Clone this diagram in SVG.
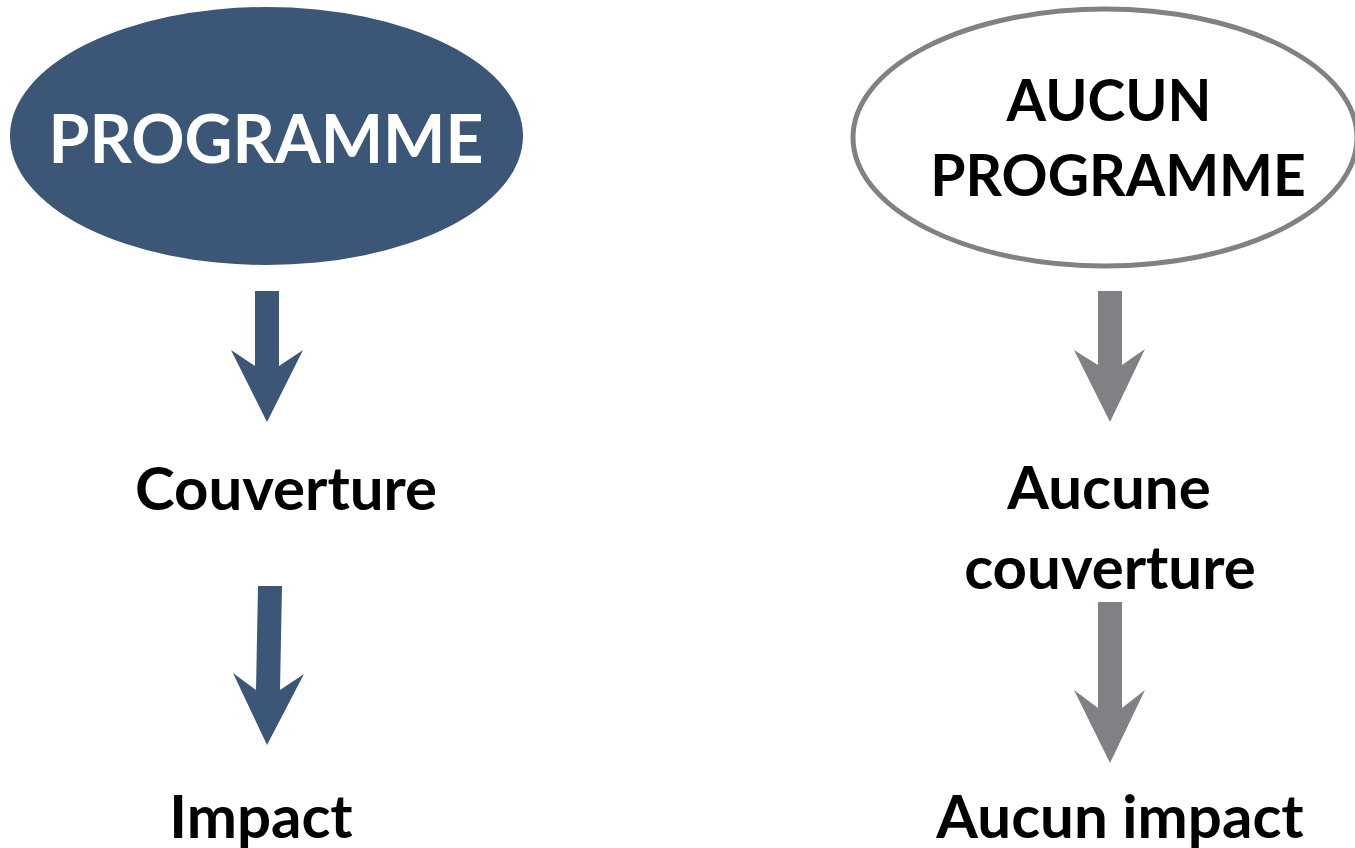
<svg xmlns="http://www.w3.org/2000/svg" width="1355" height="848" viewBox="0 0 1355 848">
<style>
.t{font-family:Lato,"Open Sans","Liberation Sans",sans-serif;font-weight:700;text-anchor:middle;fill:#000}
.blue{fill:#3b5676}
.gray{fill:#7f8185}
</style>
<rect width="1355" height="848" fill="#fff"/>
<g id="programme">
<ellipse cx="266.5" cy="136" rx="256.5" ry="129" class="blue"/>
<text x="266" y="163" class="t" style="fill:#fff;font-size:66px">PROGRAMME</text>
</g>
<g id="aucun-programme">
<ellipse cx="1105" cy="137.5" rx="252" ry="128.5" fill="#fff" stroke="#7f8185" stroke-width="5"/>
<text x="1109" y="121" class="t" style="font-size:57px">AUCUN</text>
<text x="1118" y="196" class="t" style="font-size:57px">PROGRAMME</text>
</g>
<g id="couverture"><text x="286" y="510" class="t" style="font-size:60px">Couverture</text></g>
<g id="impact"><text x="261" y="838" class="t" style="font-size:60px">Impact</text></g>
<g id="aucune-couverture">
<text x="1109" y="509" class="t" style="font-size:60px">Aucune</text>
<text x="1110" y="589" class="t" style="font-size:60px">couverture</text>
</g>
<g id="aucun-impact"><text x="1120" y="838" class="t" style="font-size:60px">Aucun impact</text></g>
<g id="connectors">
<polygon class="blue" points="255,291 279,291 279,366 303,350 267,422 231,350 255,366"/>
<polygon class="blue" points="258,586 282,586 280,690 304,674 267,745 233,673 256,690"/>
<polygon class="gray" points="1098,291 1122,291 1122,365 1145,349 1110,422 1074,350 1098,365"/>
<polygon class="gray" points="1098,602 1122,602 1122,708 1145,690 1110,763 1074,690 1098,708"/>
</g>
</svg>
